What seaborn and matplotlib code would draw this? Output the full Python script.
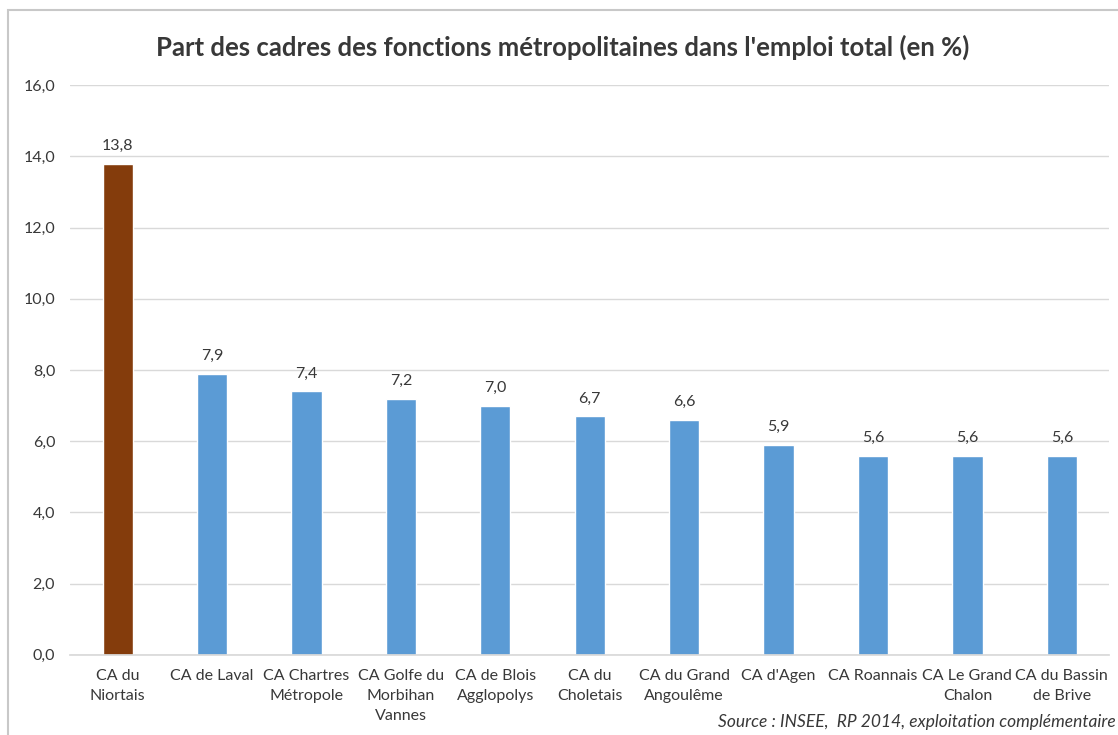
import matplotlib
matplotlib.use("Agg")
import matplotlib.pyplot as plt
import seaborn as sns
import pandas as pd
from matplotlib.patches import Rectangle

categories = ["CA du\nNiortais", "CA de Laval", "CA Chartres\nMétropole",
              "CA Golfe du\nMorbihan\nVannes", "CA de Blois\nAgglopolys",
              "CA du\nCholetais", "CA du Grand\nAngoulême", "CA d'Agen",
              "CA Roannais", "CA Le Grand\nChalon", "CA du Bassin\nde Brive"]
values = [13.8, 7.9, 7.4, 7.2, 7.0, 6.7, 6.6, 5.9, 5.6, 5.6, 5.6]
groups = ["focus"] + ["other"] * 10
yticks = [0, 2, 4, 6, 8, 10, 12, 14, 16]

sns.set_theme(style="white")
plt.rcParams["font.family"] = ["Lato", "DejaVu Sans"]

TXT = "#383838"
df = pd.DataFrame({"cat": categories, "val": values, "grp": groups})

fig = plt.figure(figsize=(11.18, 7.35), dpi=100)
ax = fig.add_axes([0.063, 0.109, 0.929, 0.775])

sns.barplot(data=df, x="cat", y="val", hue="grp",
            palette={"focus": "#843C0C", "other": "#5B9BD5"},
            dodge=False, width=0.32, legend=False, ax=ax, saturation=1)

ax.set_ylim(0, 16)
ax.set_yticks(yticks)
ax.set_yticklabels([f"{v:.1f}".replace(".", ",") for v in yticks],
                   fontsize=11.5, color=TXT)
ax.yaxis.grid(True, color="#D9D9D9", linewidth=1)
ax.set_axisbelow(True)
for s in ["top", "right", "left"]:
    ax.spines[s].set_visible(False)
ax.spines["bottom"].set_color("#D9D9D9")
ax.set_xlabel("")
ax.set_ylabel("")
ax.tick_params(axis="x", labelsize=11.5, colors=TXT, pad=10, length=0)
ax.tick_params(axis="y", length=0, pad=11)
for lab in ax.get_xticklabels():
    lab.set_linespacing(1.55)

for i, v in enumerate(values):
    ax.text(i, v + 0.3, f"{v:.1f}".replace(".", ","), ha="center", va="bottom",
            fontsize=11.5, color=TXT)

fig.text(0.503, 0.936, "Part des cadres des fonctions métropolitaines dans l'emploi total (en %)",
         ha="center", va="center", fontsize=18.5, fontweight="bold", color=TXT)
fig.text(0.998, 0.018, "Source : INSEE,  RP 2014, exploitation complémentaire",
         ha="right", va="center", fontsize=12.5, style="italic", color=TXT)

fig.patches.append(Rectangle((0.007, -0.01), 1.1, 0.997, transform=fig.transFigure,
                             fill=False, edgecolor="#C8C8C8", linewidth=1.5))

fig.savefig("out.png", dpi=100)
